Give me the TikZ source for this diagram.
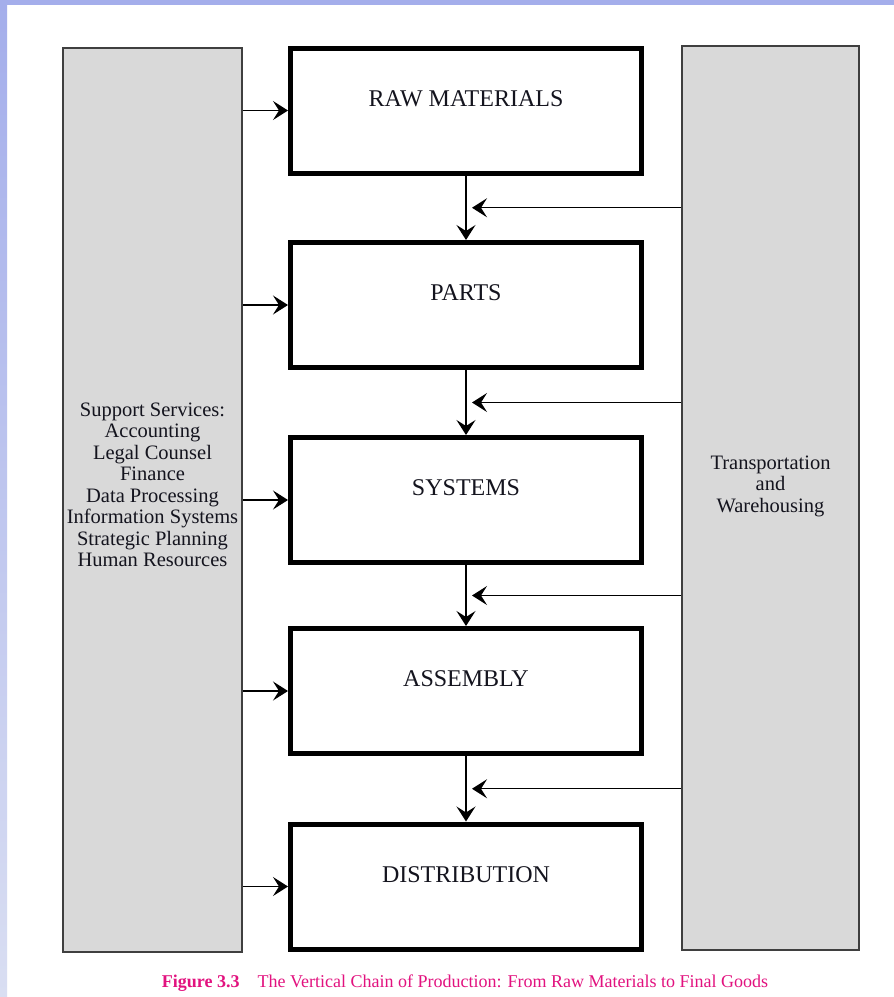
\documentclass[tikz,border=0pt]{standalone}
\usepackage{fontspec}
\setmainfont{Liberation Serif}
\usetikzlibrary{arrows.meta, positioning, calc}
\definecolor{panelgray}{HTML}{D9D9D9}
\definecolor{paneledge}{HTML}{3F3F3F}
\definecolor{slideblue}{HTML}{A4AEEB}
\definecolor{slidepale}{HTML}{D9DEF2}
\definecolor{capmagenta}{HTML}{E2127F}
\definecolor{labelink}{HTML}{14141E}

\begin{document}
\begin{tikzpicture}[x=1pt, y=-1pt,
  stage/.style={draw, line width=5pt, minimum width=351pt, minimum height=125pt, inner sep=0pt,
    font=\fontsize{24}{28}\selectfont, text=labelink, text height=16pt, text depth=25pt},
  panel/.style={draw=paneledge, line width=1.6pt, fill=panelgray, inner sep=0pt},
  paneltext/.style={align=center, font=\fontsize{20.5}{21.5}\selectfont, text=labelink},
  flow/.style={line width=1.4pt, -{Stealth[length=15pt, width=19pt, inset=6pt]}}
]
\useasboundingbox (0,0) rectangle (894,997);
% slide background
\fill[white] (0,0) rectangle (894,997);
\shade[top color=slideblue, bottom color=slidepale] (0,0) rectangle (7,997);
\fill[slideblue] (0,0) rectangle (894,5);
% side panels
\node[panel, minimum width=179.4pt, minimum height=904.4pt] (support) at (152.5,500) {};
\node[panel, minimum width=177.4pt, minimum height=904.4pt] (transport) at (770.5,498) {};
\node[paneltext] (supportlbl) at ([yshift=15pt]support.center) {Support Services:\\Accounting\\Legal Counsel\\Finance\\Data Processing\\Information Systems\\Strategic Planning\\Human Resources};
\node[paneltext] (transportlbl) at ([yshift=12pt]transport.center) {Transportation\\and\\Warehousing};
% production stages
\foreach \name/\txt/\yy in {raw/RAW MATERIALS/110.5, parts/PARTS/305, systems/SYSTEMS/500,
  assembly/ASSEMBLY/691, distrib/DISTRIBUTION/886.5} {
  \node[stage] (\name) at (466,\yy) {\txt};
  \draw[flow] (support.east |- \name) -- (\name.west);
}
% chain and feeds from transportation
\foreach \a/\b [count=\i] in {raw/parts, parts/systems, systems/assembly, assembly/distrib} {
  \draw[flow] (\a.south) -- (\b.north);
  \coordinate (feed\i) at ($(\a.south)!0.5!(\b.north) + (6,0)$);
  \draw[flow] (transport.west |- feed\i) -- (feed\i);
}
% caption
\node[text=capmagenta, font=\fontsize{18}{20}\selectfont] (caption) at (465,983)
  {\textbf{Figure 3.3}\quad The Vertical Chain of Production: From Raw Materials to Final Goods};
\end{tikzpicture}
\end{document}
